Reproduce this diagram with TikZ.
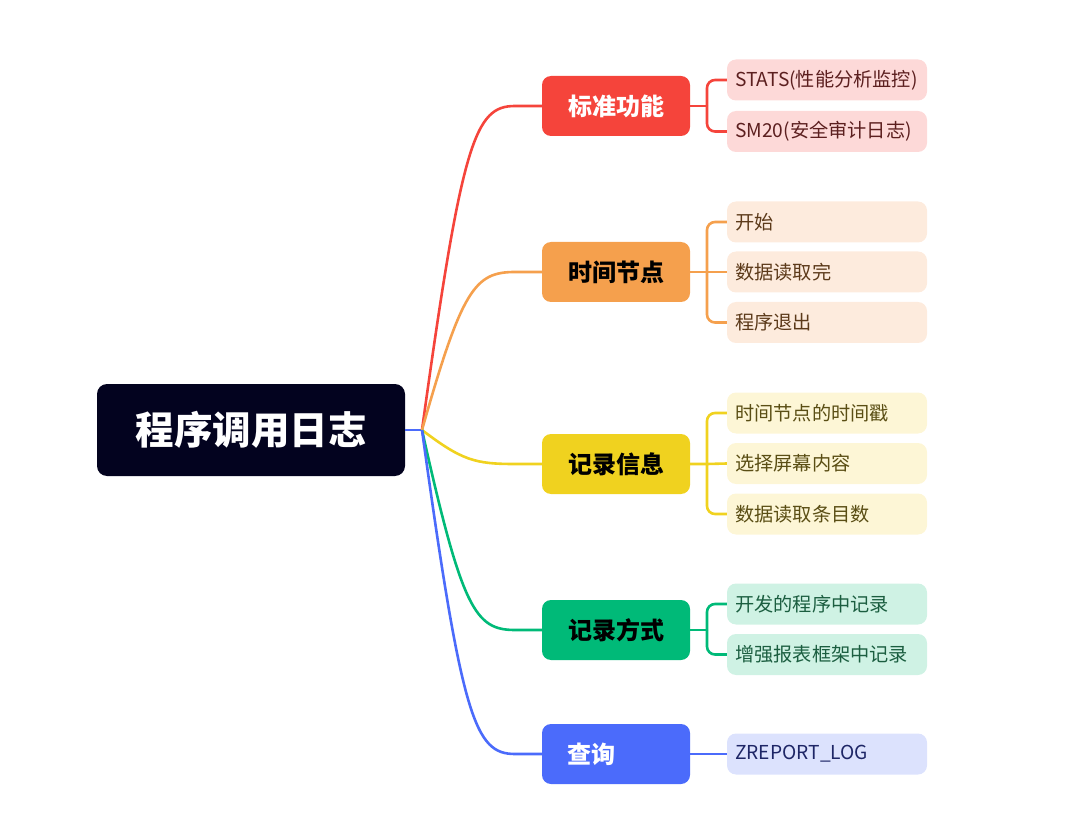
\documentclass[tikz,border=0pt]{standalone}
\usepackage{fontspec}
\setmainfont{Noto Sans CJK SC}
\usetikzlibrary{calc}
\definecolor{rootbg}{HTML}{03031F}
\definecolor{cred}{HTML}{F5443B}
\definecolor{corange}{HTML}{F5A04D}
\definecolor{cyellow}{HTML}{F0D21F}
\definecolor{cgreen}{HTML}{00BA78}
\definecolor{cblue}{HTML}{4B6BFB}
\definecolor{lred}{HTML}{FDD9D8}
\definecolor{lorange}{HTML}{FDEBDD}
\definecolor{lyellow}{HTML}{FDF6D6}
\definecolor{lgreen}{HTML}{CFF2E4}
\definecolor{lblue}{HTML}{DCE2FD}
\definecolor{tred}{HTML}{5C1F1F}
\definecolor{torange}{HTML}{5C3A1A}
\definecolor{tyellow}{HTML}{5A4E14}
\definecolor{tgreen}{HTML}{1B5E40}
\definecolor{tblue}{HTML}{1E2666}
\tikzset{
  rootbox/.style={fill=rootbg, rounded corners=10pt, minimum width=308pt, minimum height=92pt, inner sep=0pt, text=white, font=\fontsize{38.5}{44}\selectfont\bfseries},
  branchbox/.style={rounded corners=9pt, minimum width=148pt, minimum height=60pt, inner sep=0pt, font=\fontsize{24}{28}\selectfont\bfseries},
  leafbox/.style={rounded corners=9pt, minimum width=200pt, minimum height=41pt, inner sep=0pt},
  leaftext/.style={anchor=west, inner sep=0pt, font=\fontsize{19.2}{22}\selectfont},
  conn/.style={line width=2.6pt},
}
\begin{document}
\begin{tikzpicture}[x=1pt,y=-1pt]
\useasboundingbox (0,0) rectangle (1080,813);
% root
\node[rootbox] (root) at (251,430) {程序调用日志};
\coordinate (hub) at (422,430);
% branches
\node[branchbox, fill=cred, text=white] (b1) at (616,106) {标准功能};
\node[branchbox, fill=corange, text=black] (b2) at (616,272) {时间节点};
\node[branchbox, fill=cyellow, text=black] (b3) at (616,464) {记录信息};
\node[branchbox, fill=cgreen, text=black] (b4) at (616,630) {记录方式};
\node[branchbox, fill=cblue] (b5) at (616,754) {};
\node[anchor=west, inner sep=0pt, text=white, font=\fontsize{24}{28}\selectfont\bfseries] (b5t) at (567,754) {查询};
% leaves
\node[leafbox, fill=lred] (l11) at (827,80) {};
\node[leafbox, fill=lred] (l12) at (827,131.5) {};
\node[leafbox, fill=lorange] (l21) at (827,222) {};
\node[leafbox, fill=lorange] (l22) at (827,272) {};
\node[leafbox, fill=lorange] (l23) at (827,322.5) {};
\node[leafbox, fill=lyellow] (l31) at (827,413) {};
\node[leafbox, fill=lyellow] (l32) at (827,463.5) {};
\node[leafbox, fill=lyellow] (l33) at (827,514) {};
\node[leafbox, fill=lgreen] (l41) at (827,604) {};
\node[leafbox, fill=lgreen] (l42) at (827,654.5) {};
\node[leafbox, fill=lblue] (l51) at (827,754) {};
\node[leaftext, text=tred] (t11) at (735,80) {STATS(性能分析监控)};
\node[leaftext, text=tred] (t12) at (735,131.5) {SM20(安全审计日志)};
\node[leaftext, text=torange] (t21) at (735,222) {开始};
\node[leaftext, text=torange] (t22) at (735,272) {数据读取完};
\node[leaftext, text=torange] (t23) at (735,322.5) {程序退出};
\node[leaftext, text=tyellow] (t31) at (735,413) {时间节点的时间戳};
\node[leaftext, text=tyellow] (t32) at (735,463.5) {选择屏幕内容};
\node[leaftext, text=tyellow] (t33) at (735,514) {数据读取条目数};
\node[leaftext, text=tgreen] (t41) at (735,604) {开发的程序中记录};
\node[leaftext, text=tgreen] (t42) at (735,654.5) {增强报表框架中记录};
\node[leaftext, text=tblue] (t51) at (735,754) {ZREPORT\_LOG};
% root to hub
\draw[conn, cblue] (root.east) -- (hub);
% main branches
\draw[conn, cred] (hub) .. controls (462,140) and (475,106) .. (515,106) -- (b1.west);
\draw[conn, corange] (hub) .. controls (462,288.6) and (475,272) .. (515,272) -- (b2.west);
\draw[conn, cyellow] (hub) .. controls (462,460.4) and (475,464) .. (515,464) -- (b3.west);
\draw[conn, cgreen] (hub) .. controls (462,609) and (475,630) .. (515,630) -- (b4.west);
\draw[conn, cblue] (hub) .. controls (462,720) and (475,754) .. (515,754) -- (b5.west);
% brackets
\coordinate (j1) at (707,106);
\coordinate (j2) at (707,272);
\coordinate (j3) at (707,464);
\coordinate (j4) at (707,630);
\draw[conn, cred] (b1.east) -- (j1);
\draw[conn, cred, rounded corners=8pt] (j1) |- (l11.west);
\draw[conn, cred, rounded corners=8pt] (j1) |- (l12.west);
\draw[conn, corange] (b2.east) -- (j2) -- (l22.west);
\draw[conn, corange, rounded corners=8pt] (j2) |- (l21.west);
\draw[conn, corange, rounded corners=8pt] (j2) |- (l23.west);
\draw[conn, cyellow] (b3.east) -- (j3) -- (l32.west);
\draw[conn, cyellow, rounded corners=8pt] (j3) |- (l31.west);
\draw[conn, cyellow, rounded corners=8pt] (j3) |- (l33.west);
\draw[conn, cgreen] (b4.east) -- (j4);
\draw[conn, cgreen, rounded corners=8pt] (j4) |- (l41.west);
\draw[conn, cgreen, rounded corners=8pt] (j4) |- (l42.west);
\draw[conn, cblue] (b5.east) -- (l51.west);
\end{tikzpicture}
\end{document}
